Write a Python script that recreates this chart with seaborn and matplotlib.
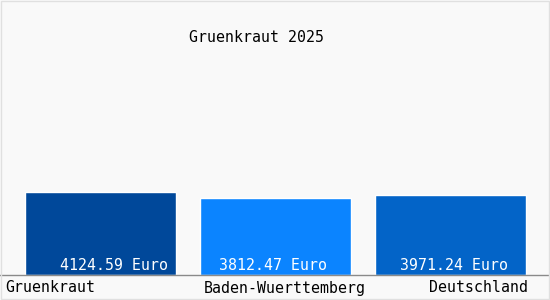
import matplotlib
matplotlib.use("Agg")
import matplotlib.pyplot as plt
import seaborn as sns
import pandas as pd

categories = ["Gruenkraut", "Baden-Wuerttemberg", "Deutschland"]
values = [4124.59, 3812.47, 3971.24]
value_labels = ["4124.59 Euro", "3812.47 Euro", "3971.24 Euro"]
colors = ["#00489a", "#0b84ff", "#0364c8"]
title = "Gruenkraut 2025"

sns.set_style("white")
plt.rcParams["font.family"] = ["DejaVu Sans Mono"]
FS = 10.7

df = pd.DataFrame({"cat": categories, "val": values})

fig = plt.figure(figsize=(5.5, 3.0), dpi=100)
fig.patch.set_facecolor("#f9f9f9")
ax = fig.add_axes([0, 25 / 300, 1, 215 / 300])
ax.set_facecolor("#f9f9f9")

sns.barplot(data=df, x="cat", y="val", hue="cat", palette=colors,
            width=151 / 175, legend=False, ax=ax, saturation=1)

ax.set_xlim(-100.5 / 175, 2 + 99.5 / 175)
ax.set_ylim(0, 215 / (83 / 4124.59))

for s in ["top", "left", "right"]:
    ax.spines[s].set_visible(False)
ax.spines["bottom"].set_color("#8a8a8a")
ax.spines["bottom"].set_linewidth(1)
ax.set_yticks([])
ax.set_xlabel("")
ax.set_ylabel("")
ax.set_xticks([])

offset = matplotlib.transforms.ScaledTranslation(0, 2 / 100, fig.dpi_scale_trans)
label_offsets_px = [13, -2.5, 3]
for i, (v, t) in enumerate(zip(values, value_labels)):
    ax.text(i + label_offsets_px[i] / 175, 0, t, ha="center", va="bottom",
            color="white", fontsize=FS, transform=ax.transData + offset)

# category labels
fig.text(5 / 550, 1 - 288 / 300, categories[0], ha="left", va="center", fontsize=FS, color="black")
fig.text(285 / 550, 1 - 288 / 300, categories[1], ha="center", va="center", fontsize=FS, color="black")
fig.text(528 / 550, 1 - 288 / 300, categories[2], ha="right", va="center", fontsize=FS, color="black")

fig.text(256.5 / 550, 1 - 37 / 300, title, ha="center", va="center", fontsize=FS, color="black")

# light outer border
border = plt.Rectangle((1 / 550, 1 / 300), 548 / 550, 298 / 300, transform=fig.transFigure,
                       fill=False, edgecolor="#e0e0e0", linewidth=1)
fig.patches.append(border)

fig.savefig("out.png", dpi=100, facecolor=fig.get_facecolor())
